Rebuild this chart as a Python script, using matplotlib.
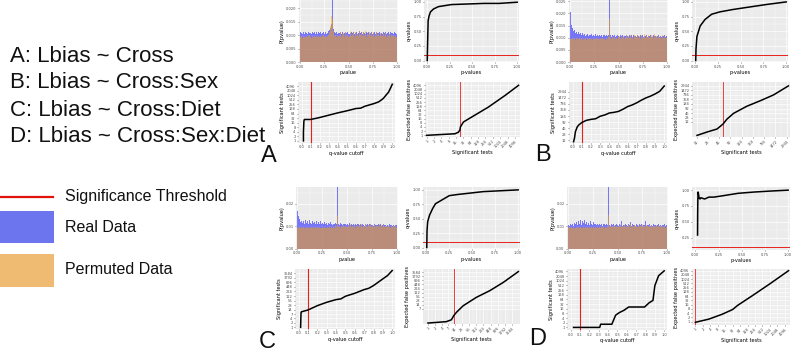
import numpy as np
import matplotlib
matplotlib.use("Agg")
import matplotlib.pyplot as plt
from matplotlib.lines import Line2D
from matplotlib.patches import Rectangle
from matplotlib.ticker import AutoMinorLocator, FixedLocator, NullFormatter, FixedFormatter

W, H = 793, 354

# ---------------- data ----------------
models = ["A: Lbias ~ Cross", "B: Lbias ~ Cross:Sex",
          "C: Lbias ~ Cross:Diet", "D: Lbias ~ Cross:Sex:Diet"]
legend_labels = ["Significance Threshold", "Real Data", "Permuted Data"]
panel_letters = ["A", "B", "C", "D"]

# histogram densities per 0.01 bin (units of 1e-4)
hist_real_A = [112,108,105,110,103,112,107,104,111,106, 109,104,112,106,110,103,108,113,105,110,
               107,111,104,109,112,105,110,104,108,115, 118,125,140,245,122,110,106,112,104,109,
               108,113,105,110,104,109,112,106,110,105, 111,104,108,113,106,110,104,109,112,105,
               108,114,106,110,104,112,107,105,111,106, 110,104,109,113,105,108,112,104,110,106,
               109,112,105,108,113,104,110,106,111,105, 108,112,104,110,106,109,105,111,107,104]
hist_perm_A = [92,96,90,98,94,91,97,93,95,99, 94,90,97,93,96,92,98,95,91,96,
               93,97,92,95,99,94,96,91,98,100, 112,135,170,160,115,96,99,93,102,95,
               97,110,94,99,108,93,112,96,101,94, 106,98,115,95,100,109,93,112,97,104,
               96,114,99,103,95,111,97,116,94,105, 99,112,95,108,97,113,94,102,110,96,
               104,97,109,95,112,98,103,96,108,94, 100,96,104,93,99,95,101,94,97,92]
hist_real_B = [205,152,138,128,133,121,125,117,122,114, 119,112,120,110,116,108,118,111,114,107,
               113,109,116,106,112,108,115,105,111,107, 110,106,113,104,109,112,105,110,107,111,
               270,109,104,111,106,110,103,108,112,105, 109,104,110,106,111,103,108,105,112,106,
               104,110,106,109,103,111,105,108,104,110, 107,103,109,105,112,104,108,106,110,103,
               108,105,111,104,107,103,110,105,108,104, 106,110,104,108,103,107,105,109,104,106]
hist_perm_B = [96,93,99,94,97,92,98,95,93,97, 94,98,92,96,93,99,95,92,97,94,
               98,93,96,92,99,95,93,97,94,96, 93,97,95,99,94,96,92,98,95,101,
               175,99,95,102,97,104,96,100,94,103, 98,106,95,101,97,108,96,103,110,98,
               105,97,112,99,104,96,109,101,98,113, 100,107,96,111,99,104,115,98,106,101,
               109,97,103,112,99,106,98,114,101,105, 97,108,100,104,96,110,99,103,97,100]
hist_real_C = [168,145,132,120,126,115,122,112,128,117, 124,113,127,116,110,125,114,119,111,123,
               113,118,110,122,112,116,109,120,111,115, 108,114,112,118,110,107,113,109,115,111,
               285,112,108,115,110,106,113,109,112,107, 111,106,114,108,112,105,110,107,113,106,
               109,113,106,110,105,112,108,104,111,107, 110,105,109,113,106,108,104,110,107,105,
               108,112,105,109,104,107,111,105,108,103, 107,104,109,105,108,103,106,104,107,105]
hist_perm_C = [95,92,97,93,96,91,98,94,92,96, 93,97,91,95,98,92,96,93,97,94,
               96,92,98,94,91,97,93,99,95,92, 97,94,99,93,96,95,98,94,100,96,
               145,97,101,95,104,98,106,96,102,99, 97,105,99,110,96,103,98,107,95,104,
               101,97,108,99,112,98,104,96,109,100, 98,106,100,111,97,103,99,108,96,102,
               104,98,109,97,105,99,112,96,103,100, 97,104,99,95,101,98,103,96,100,94]
hist_real_D = [108,104,112,106,110,103,115,109,118,106, 125,112,128,108,122,114,130,110,119,107,
               116,108,124,111,105,118,109,113,106,110, 107,112,105,110,104,109,113,106,111,105,
               280,108,104,111,106,110,103,108,112,105, 109,104,110,106,122,103,108,105,112,106,
               104,110,106,118,103,111,105,108,104,110, 107,103,109,105,112,104,108,106,125,103,
               108,105,111,104,107,103,110,105,108,104, 106,110,104,108,103,107,105,109,104,106]
hist_perm_D = [94,97,92,96,93,98,95,91,97,94, 96,93,98,92,95,97,91,96,94,98,
               93,97,95,99,94,96,92,98,95,97, 94,98,93,100,96,97,95,99,94,101,
               150,97,103,96,101,99,105,97,102,98, 104,97,100,106,98,103,96,108,99,102,
               97,105,99,110,96,102,98,107,100,104, 99,106,97,103,100,109,96,102,98,105,
               101,97,104,99,108,96,103,100,97,105, 99,103,96,101,98,104,97,100,95,98]

# q-values vs p-values
qv_p_A = [0.0, 0.005, 0.01, 0.02, 0.036, 0.07, 0.125, 0.27, 0.45, 0.63, 0.8, 0.9, 1.0]
qv_q_A = [0.0, 0.35, 0.68, 0.76, 0.83, 0.88, 0.92, 0.955, 0.965, 0.975, 0.975, 0.985, 0.995]
qv_p_B = [0.005, 0.008, 0.018, 0.054, 0.107, 0.18, 0.27, 0.41, 0.625, 0.8, 1.0]
qv_q_B = [0.0, 0.2, 0.41, 0.59, 0.70, 0.79, 0.83, 0.87, 0.92, 0.96, 1.0]
qv_p_C = [0.005, 0.008, 0.015, 0.035, 0.07, 0.1, 0.25, 0.34, 0.62, 1.0]
qv_q_C = [0.0, 0.3, 0.45, 0.56, 0.68, 0.76, 0.9, 0.92, 0.97, 1.0]
qv_p_D = [0.024, 0.025, 0.027, 0.03, 0.035, 0.04, 0.05, 0.06, 0.08, 0.1, 0.146, 0.2, 0.29, 0.46, 0.63, 0.8, 1.0]
qv_q_D = [0.29, 0.6, 0.85, 0.97, 0.93, 0.88, 0.86, 0.88, 0.87, 0.86, 0.89, 0.89, 0.91, 0.95, 0.97, 0.985, 1.0]
threshold = 0.1

# significant tests vs q-value cutoff
sig_q_A = [0.02, 0.02, 0.025, 0.03, 0.1, 0.2, 0.3, 0.4, 0.5, 0.6, 0.65, 0.7, 0.8, 0.85, 0.9, 0.93, 0.96, 1.0]
sig_n_A = [1, 4, 20, 26, 26, 35, 50, 71, 97, 137, 144, 195, 292, 375, 620, 1024, 1670, 5400]
sig_q_B = [0.01, 0.02, 0.03, 0.05, 0.07, 0.1, 0.15, 0.2, 0.25, 0.3, 0.35, 0.4, 0.45, 0.5, 0.55, 0.6,
           0.65, 0.7, 0.75, 0.8, 0.85, 0.9, 0.95, 1.0]
sig_n_B = [10, 15, 31, 54, 69, 88, 113, 126, 135, 180, 208, 260, 280, 312, 400, 540,
           650, 830, 1120, 1450, 1770, 2270, 3050, 5600]
sig_q_C = [0.02, 0.022, 0.025, 0.03, 0.1, 0.2, 0.3, 0.4, 0.45, 0.5, 0.6, 0.7, 0.75, 0.8, 0.9, 0.95, 1.0]
sig_n_C = [1, 3, 9.7, 10.5, 13.8, 26.5, 44, 66, 73, 109, 171, 298, 364, 545, 1500, 2470, 5260]
sig_q_D = [0.03, 0.31, 0.32, 0.44, 0.48, 0.52, 0.57, 0.62, 0.79, 0.84, 0.88, 0.9, 0.94, 1.0]
sig_n_D = [1, 1, 1.6, 1.6, 6.1, 9, 12.7, 20.6, 20.6, 39, 55, 490, 2130, 4400]

# expected false positives vs significant tests
efp_n_A = [1, 14.5, 20, 23, 24, 32, 70, 340, 1650, 5800]
efp_v_A = [1.0, 1.3, 1.7, 2.4, 4.0, 9.2, 21, 111, 776, 4096]
efp_n_B = [12, 22, 41, 59, 75, 113, 254, 576, 1300, 3260]
efp_v_B = [1.5, 2.5, 4, 8.5, 18, 44, 130, 300, 730, 2944]
efp_n_C = [1, 6, 9.8, 12.3, 16, 31, 112, 418, 1550, 6700]
efp_v_C = [0.63, 0.8, 1.1, 2.2, 3.9, 12, 50, 157, 640, 4000]
efp_n_D = [1, 3.5, 12, 32, 52, 210, 1020, 5800]
efp_v_D = [0.89, 1.5, 3.3, 7.2, 14.5, 73, 478, 4096]
efp_cut = {"A": 23, "B": 59, "C": 12.3, "D": 1}

ticks_A = [1, 2, 4, 8, 16, 32, 64, 128, 256, 512, 1024, 2048, 4096]
ticks_B = [12, 23, 46, 92, 184, 368, 736, 1472, 2944]
ticks_C = [1, 2, 4, 7, 14, 28, 56, 112, 224, 448, 896, 1792, 3584]
ticks_D = [1, 2, 4, 8, 16, 32, 64, 128, 256, 512, 1024, 2048, 4096]
efp_yticks_C = [7, 14, 28, 56, 112, 224, 448, 896, 1792, 3584]

# ---------------- styling ----------------
BLUE = "#0000FF"
ORANGE = "#FFA500"
RED = "#E8201C"
TICK_FS = 2.6
LAB_FS = 3.6

fig = plt.figure(figsize=(W / 100, H / 100), dpi=100)
fig.patch.set_facecolor("white")


def rect(x0, y0, x1, y1):
    return [x0 / W, 1 - y1 / H, (x1 - x0) / W, (y1 - y0) / H]


def gg(ax):
    ax.set_facecolor("#EBEBEB")
    for s in ax.spines.values():
        s.set_visible(False)
    ax.set_axisbelow(True)
    ax.grid(which="major", color="white", lw=0.5)
    ax.grid(which="minor", color="white", lw=0.25)
    ax.tick_params(which="major", length=1.0, width=0.4, color="#333333",
                   labelsize=TICK_FS, labelcolor="#4D4D4D", pad=0.8)
    ax.tick_params(which="minor", length=0)


def log_minor(ticks):
    t = np.array(ticks, dtype=float)
    return list(np.sqrt(t[:-1] * t[1:]))


def set_log_ticks(axis, ticks):
    axis.set_major_locator(FixedLocator(ticks))
    axis.set_major_formatter(FixedFormatter([str(t) for t in ticks]))
    axis.set_minor_locator(FixedLocator(log_minor(ticks)))
    axis.set_minor_formatter(NullFormatter())


def hist_ax(r, real, perm, ytop, yticks, yfmt):
    ax = fig.add_axes(rect(*r))
    gg(ax)
    edges = np.linspace(0, 1, len(real) + 1)
    ax.bar(edges[:-1], np.array(real) * 1e-4, width=edges[1] - edges[0], align="edge",
           color=BLUE, alpha=0.5, lw=0)
    ax.bar(edges[:-1], np.array(perm) * 1e-4, width=edges[1] - edges[0], align="edge",
           color=ORANGE, alpha=0.5, lw=0)
    ax.set_xlim(-0.01, 1.01)
    ax.set_ylim(0, ytop)
    ax.set_xticks([0, 0.25, 0.5, 0.75, 1.0])
    ax.set_xticklabels(["0.00", "0.25", "0.50", "0.75", "1.00"])
    ax.xaxis.set_minor_locator(AutoMinorLocator(2))
    ax.set_yticks(yticks)
    ax.set_yticklabels([yfmt.format(v) for v in yticks])
    ax.yaxis.set_minor_locator(AutoMinorLocator(2))
    ax.set_xlabel("pvalue", fontsize=LAB_FS, labelpad=0.8)
    ax.set_ylabel("P(pvalue)", fontsize=LAB_FS, labelpad=0.8)
    return ax


def q_ax(r, p, q, ylo):
    ax = fig.add_axes(rect(*r))
    gg(ax)
    ax.axhline(threshold, color=RED, lw=0.7, zorder=2)
    ax.plot(p, q, color="black", lw=1.1, zorder=3)
    ax.set_xlim(-0.036, 1.02)
    ax.set_ylim(ylo, 1.05)
    ax.set_xticks([0, 0.25, 0.5, 0.75, 1.0])
    ax.set_xticklabels(["0.00", "0.25", "0.50", "0.75", "1.00"])
    yt = [v for v in [0, 0.25, 0.5, 0.75, 1.0] if v >= ylo]
    ax.set_yticks(yt)
    ax.set_yticklabels(["{:.2f}".format(v) for v in yt])
    ax.xaxis.set_minor_locator(AutoMinorLocator(2))
    ax.yaxis.set_minor_locator(AutoMinorLocator(2))
    ax.set_xlabel("p-values", fontsize=LAB_FS, labelpad=0.8)
    ax.set_ylabel("q-values", fontsize=LAB_FS, labelpad=0.8)
    return ax


def sig_ax(r, qc, ns, ticks, ylim):
    ax = fig.add_axes(rect(*r))
    gg(ax)
    ax.set_yscale("log", base=2)
    ax.axvline(threshold, color=RED, lw=0.8, zorder=2)
    ax.plot(qc, ns, color="black", lw=1.1, zorder=3)
    ax.set_xlim(-0.04, 1.03)
    ax.set_ylim(*ylim)
    xt = [i / 10 for i in range(11)]
    ax.set_xticks(xt)
    ax.set_xticklabels(["{:.1f}".format(v) for v in xt])
    ax.xaxis.set_minor_locator(AutoMinorLocator(2))
    set_log_ticks(ax.yaxis, ticks)
    ax.set_xlabel("q-value cutoff", fontsize=LAB_FS, labelpad=0.8)
    ax.set_ylabel("Significant tests", fontsize=LAB_FS, labelpad=0.8)
    return ax


def efp_ax(r, n, v, cut, xticks, yticks, xlim, ylim):
    ax = fig.add_axes(rect(*r))
    gg(ax)
    ax.set_xscale("log", base=2)
    ax.set_yscale("log", base=2)
    ax.axvline(cut, color=RED, lw=0.7, alpha=0.85, zorder=2)
    ax.plot(n, v, color="black", lw=1.1, zorder=3)
    ax.set_xlim(*xlim)
    ax.set_ylim(*ylim)
    set_log_ticks(ax.xaxis, xticks)
    set_log_ticks(ax.yaxis, yticks)
    for lab in ax.get_xticklabels():
        lab.set_rotation(45)
        lab.set_ha("right")
        lab.set_rotation_mode("anchor")
    ax.set_xlabel("Significant tests", fontsize=LAB_FS, labelpad=0.8)
    ax.set_ylabel("Expected false positives", fontsize=LAB_FS, labelpad=0.8)
    return ax


yt3 = [0, 0.005, 0.010, 0.015, 0.020, 0.025]
yt2 = [0, 0.01, 0.02]

# Panel A
hist_ax((299, 0, 398, 62), hist_real_A, hist_perm_A, 0.023, yt3[:5], "{:.3f}")
q_ax((424, -1, 519, 62), qv_p_A, qv_q_A, -0.025)
sig_ax((298, 82, 395, 143), sig_q_A, sig_n_A, ticks_A, (2 ** -0.45, 2 ** 12.9))
efp_ax((425, 82, 520, 137), efp_n_A, efp_v_A, efp_cut["A"], ticks_A, ticks_A,
       (2 ** -0.23, 2 ** 12.7), (2 ** -0.4, 2 ** 12.8))

# Panel B
hist_ax((569, 0, 668, 62), hist_real_B, hist_perm_B, 0.0255, yt3, "{:.3f}")
q_ax((692, -1, 788, 62), qv_p_B, qv_q_B, -0.025)
sig_ax((569, 82, 667, 143), sig_q_B, sig_n_B, ticks_B, (8.6, 8830))
efp_ax((692, 82, 790, 137), efp_n_B, efp_v_B, efp_cut["B"], ticks_B, ticks_B,
       (2 ** 3.14, 2 ** 11.81), (2 ** 0.23, 2 ** 12.38))

# Panel C
hist_ax((296, 187, 398, 249), hist_real_C, hist_perm_C, 0.0275, yt2, "{:.2f}")
q_ax((423, 187, 520, 249), qv_p_C, qv_q_C, -0.025)
sig_ax((295, 269, 395, 329), sig_q_C, sig_n_C, ticks_C, (0.78, 2 ** 12.7))
efp_ax((423, 269, 520, 324), efp_n_C, efp_v_C, efp_cut["C"], ticks_C, efp_yticks_C,
       (2 ** -0.7, 2 ** 12.94), (2 ** -0.9, 2 ** 12.6))

# Panel D
hist_ax((567, 187, 668, 249), hist_real_D, hist_perm_D, 0.0275, yt2, "{:.2f}")
q_ax((692, 187, 790, 250), qv_p_D, qv_q_D, 0.053)
sig_ax((567, 269, 667, 330), sig_q_D, sig_n_D, ticks_D, (0.68, 2 ** 12.5))
efp_ax((692, 269, 790, 325), efp_n_D, efp_v_D, efp_cut["D"], ticks_D, ticks_D,
       (2 ** -0.45, 2 ** 12.7), (2 ** -0.8, 2 ** 12.4))

# ---------------- left annotation ----------------
FAM = ["Liberation Sans", "DejaVu Sans"]
for i, m in enumerate(models):
    fig.text(10 / W, 1 - (56 + 27 * i) / H, m, fontsize=16, family=FAM,
             va="center", ha="left", color="#111111")

fig.add_artist(Line2D([0, 53 / W], [1 - 197 / H, 1 - 197 / H], color="#E3120B", lw=1.6,
                      transform=fig.transFigure))
fig.add_artist(Rectangle((0, 1 - 243 / H), 54 / W, 32 / H, transform=fig.transFigure,
                         facecolor="#6C74EE", edgecolor="none"))
fig.add_artist(Rectangle((0, 1 - 287 / H), 54 / W, 33 / H, transform=fig.transFigure,
                         facecolor="#EFBB73", edgecolor="none"))
for lab, yc in zip(legend_labels, [197, 228, 270]):
    fig.text(65 / W, 1 - yc / H, lab, fontsize=11.5, family=FAM, va="center",
             ha="left", color="#111111")

for let, (xc, yc) in zip(panel_letters, [(269, 156), (543, 155), (267, 342), (538, 339)]):
    fig.text(xc / W, 1 - yc / H, let, fontsize=17, family=FAM, va="center",
             ha="center", color="#111111")

fig.savefig("out.png", dpi=100)
